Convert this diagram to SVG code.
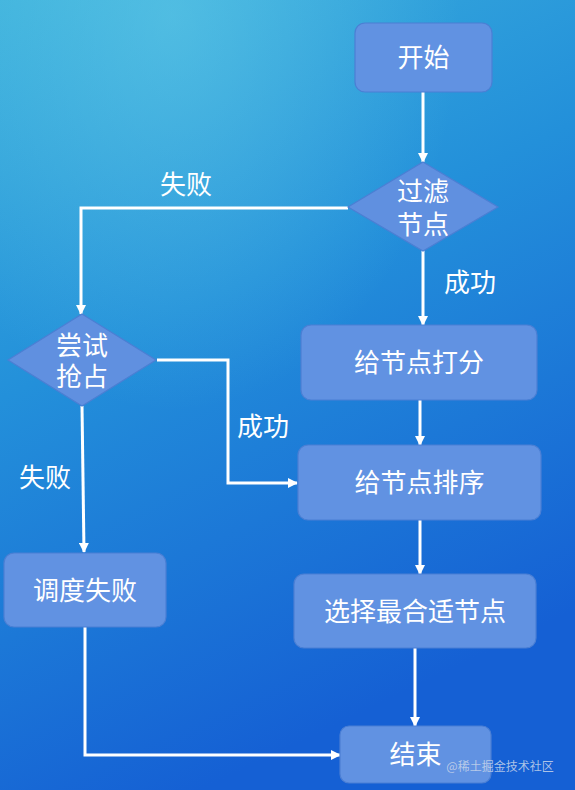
<svg xmlns="http://www.w3.org/2000/svg" width="575" height="790" viewBox="0 0 575 790">
<defs>
<linearGradient id="bg" x1="0" y1="0" x2="0.35" y2="1">
<stop offset="0" stop-color="#3cb0dc"/>
<stop offset="0.45" stop-color="#2390da"/>
<stop offset="1" stop-color="#1560d4"/>
</linearGradient>
<radialGradient id="glow" cx="0.3" cy="0.02" r="0.5">
<stop offset="0" stop-color="#70d6ea" stop-opacity="0.45"/>
<stop offset="1" stop-color="#70d6ea" stop-opacity="0"/>
</radialGradient>
<marker id="arr" viewBox="0 0 10 10" refX="9" refY="5" markerWidth="10" markerHeight="10" markerUnits="userSpaceOnUse" orient="auto">
<path d="M0,0 L10,5 L0,10 Z" fill="#ffffff"/>
</marker>
<style>
.box{fill:#6192e2;stroke:#4b7fd4;stroke-width:1.2}
.dia{fill:#6090e0;stroke:#4b7fd4;stroke-width:1.2}
.t{fill:#ffffff;font-family:"Noto Sans CJK SC","Noto Sans",sans-serif;font-size:26px;text-anchor:middle}
.ca{fill:none;stroke:#ffffff;stroke-width:3;marker-end:url(#arr)}
</style>
</defs>
<rect x="0" y="0" width="575" height="790" fill="url(#bg)"/>
<rect x="0" y="0" width="575" height="790" fill="url(#glow)"/>

<g id="connectors">
<line class="ca" x1="423" y1="92" x2="423" y2="162"/>
<polyline class="ca" points="348,208 81,208 81,314"/>
<text class="t" x="186" y="194">失败</text>
<line class="ca" x1="423" y1="250" x2="423" y2="325"/>
<text class="t" x="470" y="292">成功</text>
<line class="ca" x1="420" y1="400" x2="420" y2="445"/>
<line class="ca" x1="420" y1="520" x2="420" y2="574"/>
<line class="ca" x1="415" y1="648" x2="415" y2="726"/>
<polyline class="ca" points="157,360 228,360 228,483 297,483"/>
<text class="t" x="263" y="436">成功</text>
<line class="ca" x1="82" y1="406" x2="84" y2="552"/>
<text class="t" x="45" y="487">失败</text>
<polyline class="ca" points="85,627 85,755 340,755"/>
</g>

<g id="start">
<rect class="box" x="355" y="23" width="137" height="69" rx="10"/>
<text class="t" x="423.5" y="67">开始</text>
</g>
<g id="filter">
<polygon class="dia" points="423,162 498,207 423,251 348,207"/>
<text class="t" x="423"><tspan x="423" y="201">过滤</tspan><tspan x="423" y="234">节点</tspan></text>
</g>
<g id="score">
<rect class="box" x="301" y="325" width="236" height="75" rx="10"/>
<text class="t" x="419" y="372">给节点打分</text>
</g>
<g id="sort">
<rect class="box" x="298" y="445" width="243" height="75" rx="10"/>
<text class="t" x="419.5" y="492">给节点排序</text>
</g>
<g id="select">
<rect class="box" x="294" y="574" width="242" height="74" rx="10"/>
<text class="t" x="415" y="621">选择最合适节点</text>
</g>
<g id="end">
<rect class="box" x="340" y="726" width="151" height="57" rx="9"/>
<text class="t" x="415.5" y="764">结束</text>
</g>
<g id="preempt">
<polygon class="dia" points="82,314 156,360 82,406 8,360"/>
<text class="t" x="82"><tspan x="82" y="355">尝试</tspan><tspan x="82" y="386">抢占</tspan></text>
</g>
<g id="fail">
<rect class="box" x="4" y="553" width="162" height="74" rx="10"/>
<text class="t" x="85" y="600">调度失败</text>
</g>
<text x="500" y="771" fill="#c9d6ea" fill-opacity="0.85" font-family="Noto Sans CJK SC, sans-serif" font-size="12" text-anchor="middle">@稀土掘金技术社区</text>
</svg>
